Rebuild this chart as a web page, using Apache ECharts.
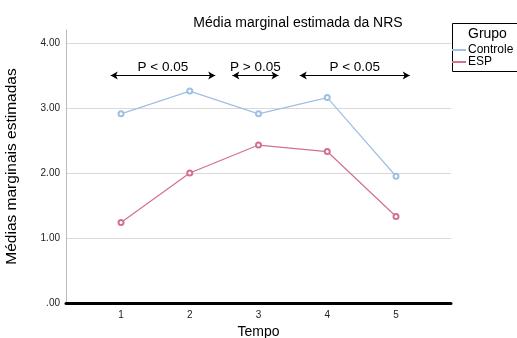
<!DOCTYPE html>
<html>
<head>
<meta charset="utf-8">
<script src="https://cdn.jsdelivr.net/npm/echarts@6/dist/echarts.min.js"></script>
<style>
  html, body { margin: 0; padding: 0; background: #fff; }
  #chart { width: 517px; height: 338px; }
</style>
</head>
<body>
<div id="chart"></div>
<script>
  // Tempo (time points)
  var tempo = [1, 2, 3, 4, 5]
  var controle = [2.91, 3.26, 2.91, 3.16, 1.95]
  var esp = [1.24, 2.0, 2.43, 2.33, 1.33]
  var yTicks = [0, 1, 2, 3, 4]
  // comparison arrows: [from, to] on the Tempo axis, drawn at height bracketY
  var brackets = [[0.85, 2.37], [2.62, 3.29], [3.6, 5.2]]
  var bracketLabels = ['P < 0.05', 'P > 0.05', 'P < 0.05']
  var bracketY = 3.5

  var font = '"Liberation Sans", Arial, sans-serif'

  function toPoints(vals) {
    return tempo.map(function (t, i) { return [t, vals[i]] })
  }

  var markData = brackets.map(function (b, i) {
    return [
      { coord: [b[0], bracketY], label: { formatter: bracketLabels[i] } },
      { coord: [b[1], bracketY] }
    ]
  })

  var myChart = echarts.init(document.getElementById('chart'))
  myChart.setOption({
    animation: false,
    textStyle: { fontFamily: font },
    title: {
      text: 'Média marginal estimada da NRS',
      left: 293,
      textAlign: 'center',
      top: 11,
      textStyle: { fontSize: 14, fontWeight: 'normal', color: '#000', fontFamily: font }
    },
    graphic: [
      {
        type: 'rect',
        shape: { x: 452.5, y: 23.5, width: 80, height: 48 },
        style: { fill: '#fff', stroke: '#000', lineWidth: 1 },
        z: 1
      },
      {
        type: 'text',
        left: 468,
        top: 27,
        style: { text: 'Grupo', fontSize: 14, fill: '#000', fontFamily: font },
        z: 2
      }
    ],
    legend: {
      left: 452,
      top: 44,
      orient: 'vertical',
      padding: 0,
      itemGap: 0,
      itemWidth: 14,
      itemHeight: 2,
      icon: 'rect',
      z: 3,
      textStyle: { fontSize: 12, color: '#000', lineHeight: 12, padding: [0, 0, 0, -3], fontFamily: font },
      data: ['Controle', 'ESP']
    },
    grid: {
      left: 66,
      right: 66,
      top: 30,
      bottom: 35,
      outerBoundsMode: 'none'
    },
    xAxis: {
      type: 'value',
      min: 0.2,
      max: 5.8,
      name: 'Tempo',
      nameLocation: 'middle',
      nameGap: 22,
      nameTextStyle: { fontSize: 14, color: '#000' },
      axisLine: { show: true, onZero: false, lineStyle: { color: '#000', width: 3 } },
      axisTick: { show: false },
      splitLine: { show: false },
      axisLabel: {
        customValues: tempo,
        fontSize: 10,
        color: '#222',
        margin: 7
      }
    },
    yAxis: {
      type: 'value',
      min: 0,
      max: 4.2,
      interval: 1,
      name: 'Médias marginais estimadas',
      nameLocation: 'middle',
      nameGap: 46,
      nameTextStyle: { fontSize: 15.5, color: '#000' },
      axisLine: { show: true, lineStyle: { color: '#bbb', width: 1 } },
      axisTick: { show: false },
      axisLabel: {
        customValues: yTicks,
        fontSize: 10,
        color: '#222',
        margin: 6,
        formatter: function (v) {
          return v === 0 ? '.00' : v.toFixed(2)
        }
      },
      splitLine: {
        show: true,
        showMinLine: false,
        showMaxLine: false,
        lineStyle: { color: '#d9d9d9', width: 1 }
      }
    },
    series: [
      {
        name: 'Controle',
        type: 'line',
        data: toPoints(controle),
        symbol: 'emptyCircle',
        symbolSize: 5,
        itemStyle: { color: '#9fc0e2', borderWidth: 1 },
        lineStyle: { color: '#9fc0e2', width: 1.2 },
        markLine: {
          silent: true,
          symbol: ['arrow', 'arrow'],
          symbolSize: [6, 7],
          lineStyle: { color: '#000', width: 1.2, type: 'solid' },
          label: {
            show: true,
            position: 'insideMiddleTop',
            distance: 1,
            fontSize: 13.5,
            color: '#000',
            fontFamily: font
          },
          data: markData
        }
      },
      {
        name: 'ESP',
        type: 'line',
        data: toPoints(esp),
        symbol: 'emptyCircle',
        symbolSize: 5,
        itemStyle: { color: '#d4708f', borderWidth: 1 },
        lineStyle: { color: '#d4708f', width: 1.2 }
      }
    ]
  })
</script>
</body>
</html>
